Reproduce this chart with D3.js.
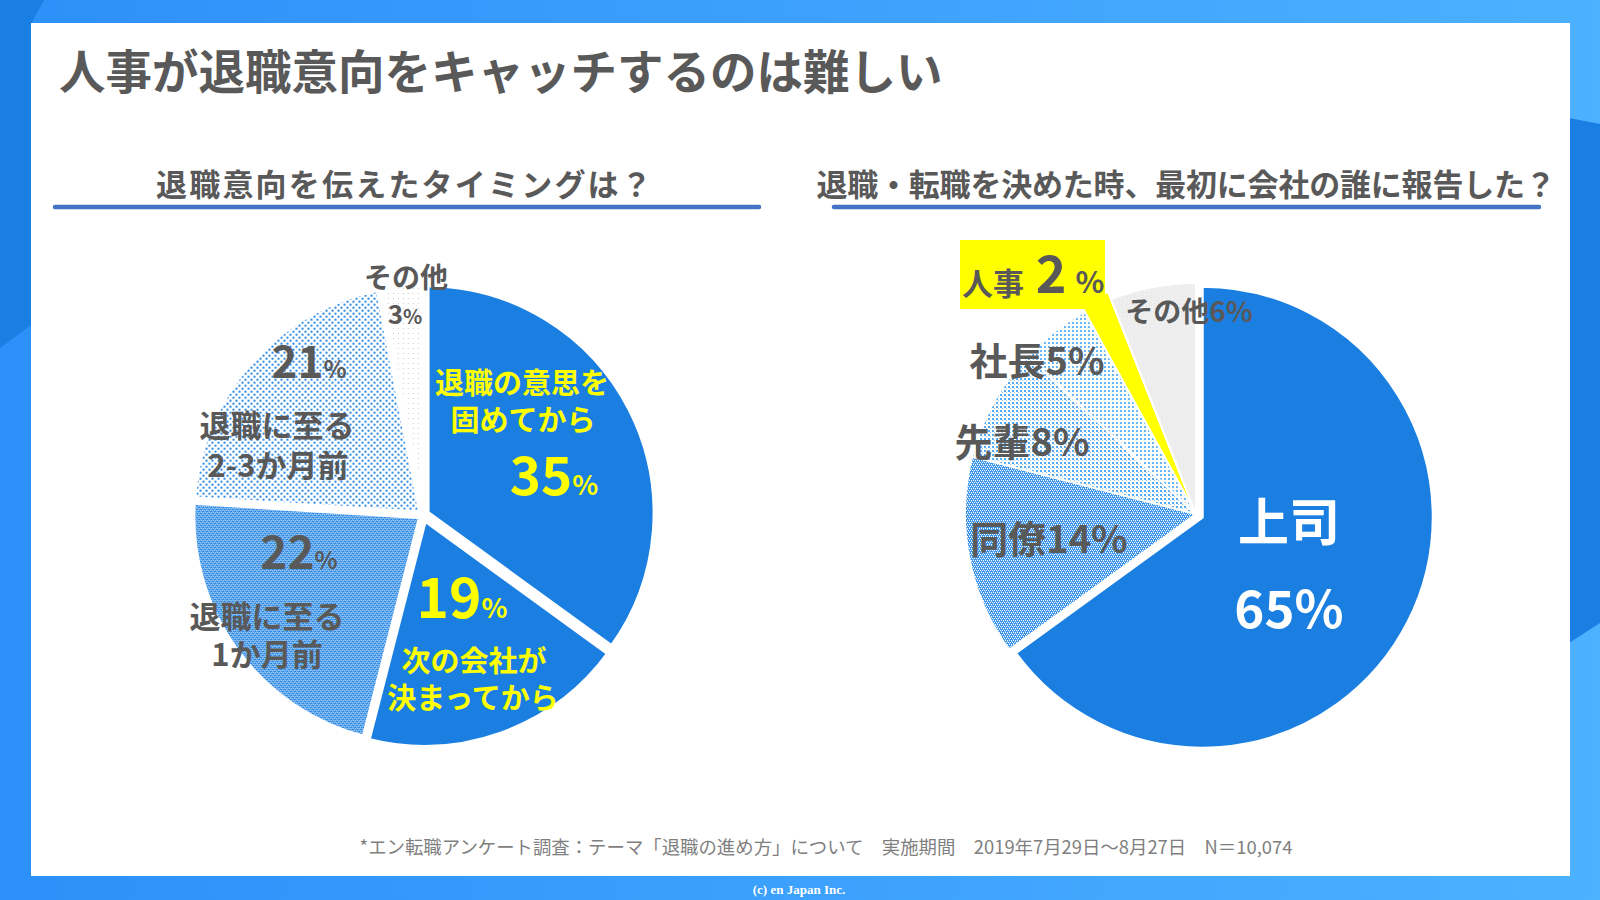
<!DOCTYPE html>
<html><head><meta charset="utf-8">
<script src="https://cdn.jsdelivr.net/npm/d3@7"></script>
<style>html,body{margin:0;padding:0;background:#fff;}svg{display:block;}</style>
</head><body>
<svg id="c" width="1600" height="900"></svg>
<script>
// ---- data ----
const titleText = "人事が退職意向をキャッチするのは難しい";
const leftTitle = "退職意向を伝えたタイミングは？";
const rightTitle = "退職・転職を決めた時、最初に会社の誰に報告した？";
const leftCategories = ["退職の意思を固めてから", "次の会社が決まってから", "退職に至る1か月前", "退職に至る2-3か月前", "その他"];
const leftValues = [35, 19, 22, 21, 3];
const rightCategories = ["上司", "同僚", "先輩", "社長", "人事", "その他"];
const rightValues = [65, 14, 8, 5, 2, 6];
const footnote = "*エン転職アンケート調査：テーマ「退職の進め方」について　実施期間　2019年7月29日～8月27日　N＝10,074";
const copyright = "(c) en Japan Inc.";

const svg = d3.select("#c");
const FONT = "'Noto Sans CJK JP','Noto Sans',sans-serif";
const GRAY = "#595959", BLUE = "#1A7FE1", YEL = "#FFFF00";

// ---- defs ----
const defs = svg.append("defs");
const bg = defs.append("linearGradient").attr("id","bgG").attr("x1","0").attr("x2","1").attr("y1","0").attr("y2","0");
bg.append("stop").attr("offset","0").attr("stop-color","#2C90FA");
bg.append("stop").attr("offset","1").attr("stop-color","#4CB1FF");

function pat(id, size, bgc, dots){
  const p = defs.append("pattern").attr("id",id).attr("patternUnits","userSpaceOnUse")
    .attr("width",size).attr("height",size);
  p.append("rect").attr("width",size).attr("height",size).attr("fill",bgc);
  dots.forEach(d=>p.append("rect").attr("x",d[0]).attr("y",d[1]).attr("width",d[2]).attr("height",d[2])
    .attr("fill",d[3]).attr("shape-rendering","crispEdges"));
}
const W = "#ffffff";
pat("pL22", 4, BLUE, [[0,0,1,W],[2,0,1,W],[1,2,1,W],[3,2,1,W],[1,1,1,"#9ccbf6"],[3,3,1,"#9ccbf6"]]);
pat("pL21", 6, "#ffffff", [[0,0,2,"#2A88E6"],[3,3,2,"#2A88E6"]]);
pat("pL3", 5, "#ffffff", [[0,0,1,"#c9c9c9"]]);
pat("pR14", 4, "#3A94EC", [[0,0,1,W],[2,0,1,W],[1,2,1,W],[3,2,1,W],[1,1,1,"#a6d2f8"],[3,3,1,"#a6d2f8"]]);
pat("pR8", 4, "#ffffff", [[0,0,2,"#55AAF4"],[2,2,1,"#8CC6F8"]]);
pat("pR5", 4, "#ffffff", [[0,0,2,"#6AB6F6"]]);
pat("pR6", 4, "#ededed", [[0,0,1,"#f8f8f8"]]);

// ---- background ----
svg.append("rect").attr("width",1600).attr("height",900).attr("fill","url(#bgG)");
svg.append("polygon").attr("points","0,0 44,0 31,24 31,325 0,348").attr("fill","#1A7FE2");
svg.append("polygon").attr("points","1569,118 1600,124 1600,623 1569,643").attr("fill","#1A7FE2");
svg.append("rect").attr("x",31).attr("y",23).attr("width",1539).attr("height",853).attr("fill","#ffffff");

// ---- titles ----
svg.append("text").attr("x",59).attr("y",68).attr("dominant-baseline","central")
  .attr("font-family",FONT).attr("font-weight",700).attr("font-size",46.5).attr("fill",GRAY).text(titleText);
svg.append("text").attr("x",405).attr("y",182).attr("dominant-baseline","central").attr("text-anchor","middle")
  .attr("font-family",FONT).attr("font-weight",700).attr("font-size",31).attr("letter-spacing",2.2).attr("fill",GRAY).text(leftTitle);
svg.append("text").attr("x",1186).attr("y",182).attr("dominant-baseline","central").attr("text-anchor","middle")
  .attr("font-family",FONT).attr("font-weight",700).attr("font-size",31).attr("letter-spacing",-0.2).attr("fill",GRAY).text(rightTitle);
svg.append("line").attr("x1",55).attr("x2",759).attr("y1",207).attr("y2",207)
  .attr("stroke","#4472C4").attr("stroke-width",4.5).attr("stroke-linecap","round");
svg.append("line").attr("x1",834).attr("x2",1539).attr("y1",207).attr("y2",207)
  .attr("stroke","#4472C4").attr("stroke-width",4.5).attr("stroke-linecap","round");

// ---- pies ----
const pie = d3.pie().sort(null).value(d=>d).startAngle(0).endAngle(2*Math.PI);

// left
const L = {cx:423, cy:515, r:229};
const leftFills = [BLUE, BLUE, "url(#pL22)", "url(#pL21)", "url(#pL3)"];
const leftArc = d3.arc().innerRadius(0).outerRadius(L.r);
const gL = svg.append("g").attr("transform",`translate(${L.cx},${L.cy})`);
gL.selectAll("path").data(pie(leftValues)).join("path")
  .attr("d",leftArc).attr("fill",(d,i)=>leftFills[i])
  .attr("stroke","#fff").attr("stroke-width",6).attr("stroke-linejoin","round")
  .attr("transform",(d,i)=>{ const off=[4,4,2,2,2][i]; const a=(d.startAngle+d.endAngle)/2;
     return `translate(${Math.sin(a)*off},${-Math.cos(a)*off})`; });

// right
const R = {cx:1196, cy:514, r:231};
const rightFills = [BLUE, "url(#pR14)", "url(#pR8)", "url(#pR5)", YEL, "url(#pR6)"];
const gR = svg.append("g").attr("transform",`translate(${R.cx},${R.cy})`);
gR.selectAll("path").data(pie(rightValues)).join("path")
  .attr("d",(d,i)=>d3.arc().innerRadius(0).outerRadius(i===4?R.r+8:R.r)(d))
  .attr("fill",(d,i)=>rightFills[i])
  .attr("stroke","#fff").attr("stroke-width",(d,i)=>i===0?3:2).attr("stroke-linejoin","round")
  .attr("transform",(d,i)=>{ const off=i===0?7:0; const a=(d.startAngle+d.endAngle)/2;
     return `translate(${Math.sin(a)*off},${-Math.cos(a)*off})`; });

// ---- labels ----
function lines(arr, color, size){
  arr.forEach(l=>svg.append("text").attr("x",l[1]).attr("y",l[2]).attr("text-anchor","middle")
    .attr("dominant-baseline","central").attr("font-family",FONT).attr("font-weight",700)
    .attr("font-size",l[3]||size).attr("fill",color).text(l[0]));
}
function pct(v, x, y, s, ps, color){
  const t = svg.append("text").attr("x",x).attr("y",y).attr("text-anchor","middle")
    .attr("font-family",FONT).attr("font-weight",700).attr("fill",color);
  t.append("tspan").attr("font-size",s).text(v);
  t.append("tspan").attr("font-size",ps).text("%");
}
// left pie labels
lines([["退職の意思を",522,381],["固めてから",523,418]], YEL, 29);
pct(leftValues[0], 554, 495, 53, 27, YEL);
pct(leftValues[1], 462, 618, 55, 27, YEL);
lines([["次の会社が",474,659],["決まってから",473,696]], YEL, 29);
pct(leftValues[2], 299, 569, 46, 24, GRAY);
lines([["退職に至る",267,614],["1か月前",267,652]], GRAY, 31);
pct(leftValues[3], 309, 378, 44, 24, GRAY);
lines([["退職に至る",277,423],["2-3か月前",278,463]], GRAY, 31);
lines([["その他",406,276]], GRAY, 28);
pct(leftValues[4], 405, 324, 26, 20, GRAY);

// right pie labels
lines([[rightCategories[0],1289,519]], "#ffffff", 51);
pct(rightValues[0], 1289, 628, 51, 51, "#ffffff");
lines([[rightCategories[1]+rightValues[1]+"%",1049,536],[rightCategories[2]+rightValues[2]+"%",1022,439],
       [rightCategories[3]+rightValues[3]+"%",1037,358]], GRAY, 38);
lines([[rightCategories[5]+rightValues[5]+"%",1189,310]], GRAY, 28);
svg.append("rect").attr("x",960).attr("y",240).attr("width",145).attr("height",69).attr("fill",YEL);
lines([[rightCategories[4],993,281]], GRAY, 31);
svg.append("text").attr("x",1051).attr("y",293).attr("text-anchor","middle").attr("font-family",FONT)
  .attr("font-weight",700).attr("font-size",52).attr("fill",GRAY).text(rightValues[4]);
svg.append("text").attr("x",1090).attr("y",293).attr("text-anchor","middle").attr("font-family",FONT)
  .attr("font-weight",700).attr("font-size",30).attr("fill",GRAY).text("%");

// ---- footer ----
svg.append("text").attr("x",826).attr("y",846).attr("text-anchor","middle").attr("dominant-baseline","central")
  .attr("font-family",FONT).attr("font-size",18.4).attr("fill","#7f7f7f").text(footnote);
svg.append("text").attr("x",799).attr("y",889).attr("text-anchor","middle").attr("dominant-baseline","central")
  .attr("font-family","'Liberation Serif',serif").attr("font-weight",700).attr("font-size",13).attr("fill","#ffffff").text(copyright);
</script>
</body></html>
